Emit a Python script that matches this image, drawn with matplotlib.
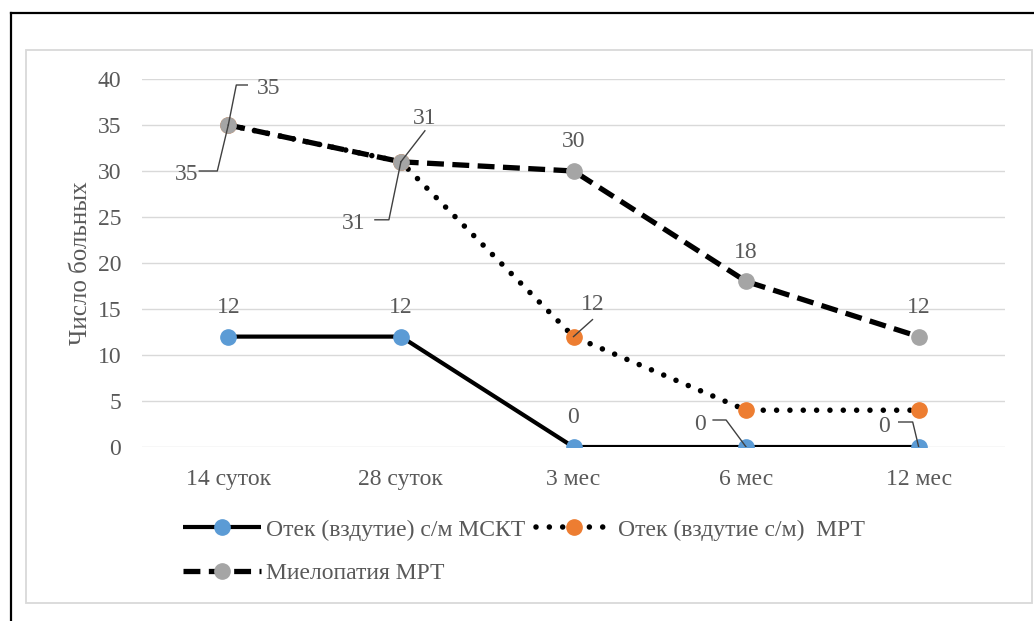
import matplotlib
matplotlib.use("Agg")
import matplotlib.pyplot as plt
from matplotlib.lines import Line2D
from matplotlib.patches import Rectangle
import numpy as np

categories = ["14 суток", "28 суток", "3 мес", "6 мес", "12 мес"]
msct_edema = [12, 12, 0, 0, 0]
mri_edema = [35, 31, 12, 4, 4]
myelopathy = [35, 31, 30, 18, 12]
series_names = ["Отек (вздутие) с/м МСКТ", "Отек (вздутие с/м)  МРТ", "Миелопатия МРТ"]
y_label = "Число больных"
y_ticks = [0, 5, 10, 15, 20, 25, 30, 35, 40]

W, H = 1034, 621
plt.rcParams['font.family'] = ['Liberation Serif', 'DejaVu Serif']
TXT = '#595959'
FS = 17

fig = plt.figure(figsize=(W / 100, H / 100), dpi=100)

# outer black border (top + left only visible)
fig.add_artist(Line2D([11 / W, 1], [1 - 13 / H, 1 - 13 / H], color='black', lw=1.6, transform=fig.transFigure))
fig.add_artist(Line2D([11 / W, 11 / W], [0, 1 - 13 / H], color='black', lw=1.6, transform=fig.transFigure))
# inner light grey chart frame
fig.add_artist(Rectangle((26 / W, 1 - 603 / H), (1032 - 26) / W, (603 - 50) / H, fill=False,
                         edgecolor='#d9d9d9', lw=1.3, transform=fig.transFigure))

ax = fig.add_axes([142 / W, 1 - 447 / H, (1005 - 142) / W, (447 - 79) / H])
x = np.arange(len(categories))
ax.set_xlim(-0.5, len(categories) - 0.5)
ax.set_ylim(0, 40)
ax.set_yticks(y_ticks)
ax.set_xticks(x)
ax.set_xticklabels(categories)
ax.tick_params(length=0, labelsize=FS, colors=TXT)
ax.tick_params(axis='y', pad=15)
ax.tick_params(axis='x', pad=16)
for s in ax.spines.values():
    s.set_visible(False)
ax.grid(axis='y', color='#d9d9d9', lw=1.0)
ax.set_axisbelow(True)
ax.set_ylabel(y_label, fontsize=FS + 1, color=TXT)
ax.yaxis.set_label_coords(-50 / 863, 0.50)

MS = 11
l1, = ax.plot(x, msct_edema, color='black', lw=3.0, marker='o', ms=MS,
              markerfacecolor='#5B9BD5', markeredgecolor='#5B9BD5', zorder=3,
              solid_capstyle='butt')
l2, = ax.plot(x, mri_edema, color='black', lw=4.0, marker='o', ms=MS,
              markerfacecolor='#ED7D31', markeredgecolor='#ED7D31', zorder=4,
              linestyle=(0, (0.001, 2.4)), dash_capstyle='round')
l3, = ax.plot(x, myelopathy, color='black', lw=3.8, marker='o', ms=MS,
              markerfacecolor='#A5A5A5', markeredgecolor='#A5A5A5', zorder=5,
              linestyle=(0, (3.2, 1.6)), dash_capstyle='butt')

def px2data(xd, yd, dx, dy):
    p = ax.transData.transform((xd, yd))
    return ax.transData.inverted().transform((p[0] + dx, p[1] - dy))

def label(xd, yd, txt, dx, dy, leader=None):
    tx, ty = px2data(xd, yd, dx, dy + 3)
    ax.text(tx, ty, txt, fontsize=FS, color=TXT, ha='center', va='center', zorder=6)
    if leader:
        pts = [px2data(xd, yd, a, b) for a, b in leader] + [(xd, yd)]
        pts = np.array(pts)
        ax.plot(pts[:, 0], pts[:, 1], color='#404040', lw=1.0, zorder=6)

# MSCT labels
label(0, 12, "12", 0, -32)
label(1, 12, "12", 0, -32)
label(2, 0, "0", 0, -32)
label(3, 0, "0", -46, -25, leader=[(-33, -27), (-20, -27)])
label(4, 0, "0", -35, -23, leader=[(-20, -25), (-6, -25)])
# MRI edema labels
label(0, 35, "35", -42, 47, leader=[(-29, 46), (-11, 46)])
label(1, 31, "31", -47, 59, leader=[(-26, 58), (-12, 58)])
label(2, 12, "12", 19, -35, leader=[(19, -17)])
# Myelopathy labels
label(0, 35, "35", 40, -39, leader=[(19, -40), (8, -40)])
label(1, 31, "31", 24, -46, leader=[(24, -31)])
label(2, 30, "30", 0, -32)
label(3, 18, "18", 0, -32)
label(4, 12, "12", 0, -32)

leg = fig.legend([l1, l3, l2], [series_names[0], series_names[2], series_names[1]],
                 ncol=2, loc='upper left', bbox_to_anchor=(183 / W, 1 - 519 / H),
                 frameon=False, fontsize=FS, labelcolor=TXT, handlelength=3.3,
                 handletextpad=0.2, columnspacing=0.45, labelspacing=0.95,
                 borderpad=0, borderaxespad=0)

fig.savefig("out.png", dpi=100)
